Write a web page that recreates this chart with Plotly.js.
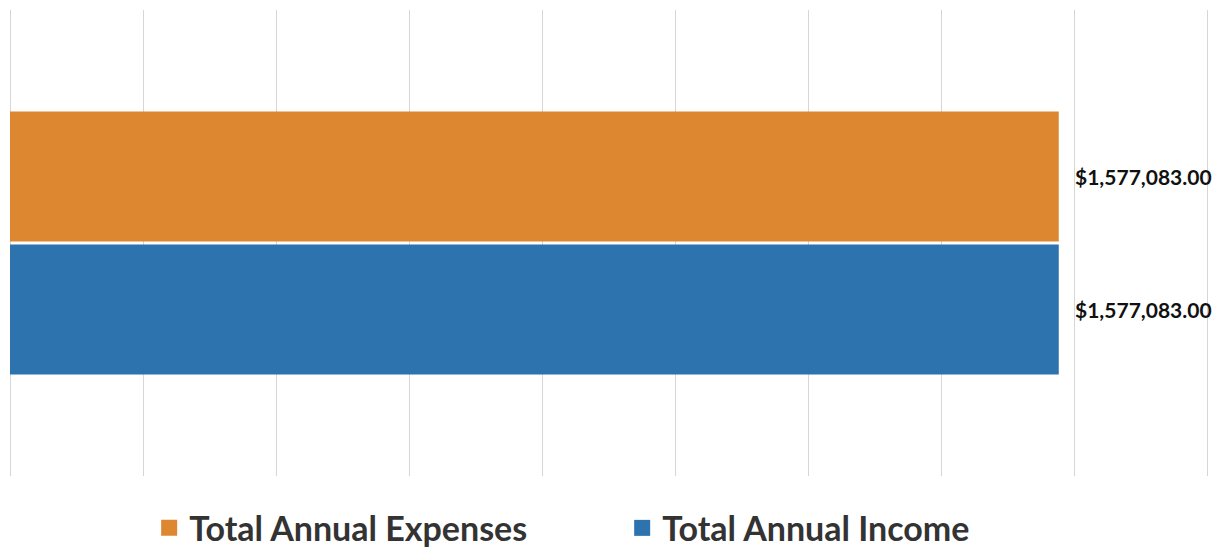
<!DOCTYPE html>
<html>
<head>
<meta charset="utf-8">
<script src="https://cdn.plot.ly/plotly-3.0.1.min.js"></script>
<style>html,body{margin:0;padding:0;background:#fff;}#chart{width:1218px;height:548px;}</style>
</head>
<body>
<div id="chart"></div>
<script>
const categories = ["Annual"];
const seriesNames = ["Total Annual Income", "Total Annual Expenses"];
const incomeValues = [1577083];
const expenseValues = [1577083];
const seriesColors = ["#2D73AE", "#DD8730"];
const gridValues = [0, 200000, 400000, 600000, 800000, 1000000, 1200000, 1400000, 1600000, 1800000];
const BARGAP = 0.429;
const GROUPGAP = 0.0226;

function fmt(v) {
  return "$" + v.toLocaleString("en-US", {minimumFractionDigits: 2, maximumFractionDigits: 2});
}

const seriesValues = [incomeValues, expenseValues];
const traces = seriesValues.map((vals, i) => ({
  type: "bar",
  orientation: "h",
  name: seriesNames[i],
  x: vals,
  y: categories,
  marker: {color: seriesColors[i]},
  showlegend: false,
  hoverinfo: "none"
}));
// legend entries with larger square swatches
seriesNames.forEach((nm, i) => {
  traces.push({
    type: "scatter", mode: "markers", name: nm,
    x: [null], y: [null],
    marker: {symbol: "square", size: 16, color: seriesColors[i]},
    hoverinfo: "none", showlegend: true
  });
});

const annotations = [];
const nS = seriesValues.length;
const bw = (1 - BARGAP) / nS;
seriesValues.forEach((vals, i) => {
  vals.forEach((v, j) => {
    annotations.push({
      x: v, y: j - (1 - BARGAP) / 2 + bw * (i + 0.5), xref: "x", yref: "y",
      text: fmt(v), showarrow: false, xanchor: "left", xshift: 14,
      font: {family: "Lato, 'Open Sans', sans-serif", size: 21, color: "#111", weight: 700}
    });
  });
});

const layout = {
  width: 1218, height: 548,
  margin: {l: 5, r: 5, t: 10, b: 72},
  paper_bgcolor: "#fff", plot_bgcolor: "#fff",
  barmode: "group",
  bargap: BARGAP,
  bargroupgap: GROUPGAP,
  showlegend: true,
  legend: {
    orientation: "h", x: 0.5109, xanchor: "center",
    yref: "container", y: 0.036, yanchor: "middle",
    traceorder: "reversed",
    font: {family: "Lato, 'Open Sans', sans-serif", size: 34, color: "#333", weight: 700},
    entrywidth: 428
  },
  xaxis: {
    range: [-7519, 1809023], tickmode: "array", tickvals: gridValues, showticklabels: false,
    showgrid: true, gridcolor: "#d6d6d6", gridwidth: 1, zeroline: false,
    showline: false, fixedrange: true
  },
  yaxis: {
    type: "category",
    showticklabels: false, showgrid: false, zeroline: false, showline: false, fixedrange: true
  },
  annotations: annotations
};

Plotly.newPlot("chart", traces, layout, {displayModeBar: false, staticPlot: true});
</script>
</body>
</html>
